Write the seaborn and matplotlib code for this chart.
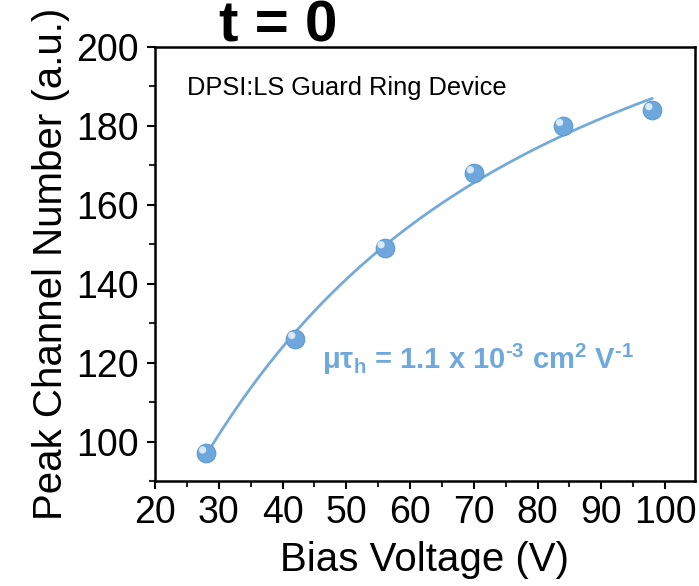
import numpy as np
import pandas as pd
import matplotlib
matplotlib.use("Agg")
import matplotlib.pyplot as plt
import matplotlib.transforms as mtransforms
import seaborn as sns

# Data
bias_voltage = [28, 42, 56, 70, 84, 98]
peak_channel = [97, 126, 149, 168, 180, 184]

x_ticks = [20, 30, 40, 50, 60, 70, 80, 90, 100]
y_ticks = [100, 120, 140, 160, 180, 200]

sns.set_theme(style="white")
plt.rcParams["font.family"] = ["Liberation Sans", "DejaVu Sans"]
plt.rcParams["mathtext.fontset"] = "custom"
plt.rcParams["mathtext.rm"] = "Liberation Sans"
plt.rcParams["mathtext.bf"] = "Liberation Sans:bold"
plt.rcParams["text.color"] = "black"
plt.rcParams["axes.labelcolor"] = "black"

df = pd.DataFrame({"V": bias_voltage, "ch": peak_channel})

# Hecht-type fit (least squares over k, linear in amplitude)
xv = np.array(bias_voltage, float)
yv = np.array(peak_channel, float)
best = None
for k in np.linspace(0.001, 0.2, 4000):
    g = k * xv * (1 - np.exp(-1.0 / (k * xv)))
    A = (g @ yv) / (g @ g)
    err = np.sum((A * g - yv) ** 2)
    if best is None or err < best[0]:
        best = (err, k, A)
_, kf, Af = best
xf = np.linspace(min(bias_voltage), max(bias_voltage), 200)
yf = Af * kf * xf * (1 - np.exp(-1.0 / (kf * xf)))
fit_df = pd.DataFrame({"V": xf, "ch": yf})

blue = "#6fa8dc"
fig = plt.figure(figsize=(6.99, 5.86), dpi=100)
ax = fig.add_axes([155 / 699, 105 / 586, 540 / 699, 434 / 586])

sns.lineplot(data=fit_df, x="V", y="ch", ax=ax, color="#74aad9", lw=2)
sns.scatterplot(data=df, x="V", y="ch", ax=ax, color="#6ea7db", s=180,
                edgecolor="#5f9ad0", linewidth=0.8, zorder=3)
off = mtransforms.offset_copy(ax.transData, fig=fig, x=-2.5, y=2.5, units="points")
ax.scatter(bias_voltage, peak_channel, s=28, color="#d8e8f7", edgecolor="none",
           transform=off, zorder=4)

ax.set_xlim(20, 104.7)
ax.set_ylim(90, 200)
ax.set_xticks(x_ticks)
ax.set_yticks(y_ticks)
ax.set_xticks(np.arange(25, 105, 10), minor=True)
ax.set_yticks(np.arange(90, 200, 20), minor=True)
ax.tick_params(axis="both", which="major", direction="out", length=6, width=1.5,
               labelsize=27, colors="black", bottom=True, left=True)
ax.tick_params(axis="y", which="major", pad=6)
ax.tick_params(axis="x", which="major", pad=4)
ax.tick_params(axis="both", which="minor", direction="out", length=4, width=1.5,
               bottom=True, left=True)
ax.tick_params(top=False, right=False, which="both")
for s in ax.spines.values():
    s.set_linewidth(1.8)
    s.set_color("black")

ax.set_xlabel("Bias Voltage (V)", fontsize=29, labelpad=7, color="black")
ax.set_ylabel("Peak Channel Number (a.u.)", fontsize=29, labelpad=4, color="black")

ax.text(0.06, 0.905, "DPSI:LS Guard Ring Device", transform=ax.transAxes,
        fontsize=18.3, va="center", ha="left", color="black")
ax.text(0.31, 0.28,
        "$\\mathbf{\\mu\\tau_h}$ = 1.1 x 10$^{\\mathbf{\u20103}}$ cm$^{\\mathbf{2}}$ V$^{\\mathbf{\u20101}}$",
        transform=ax.transAxes, fontsize=21, fontweight="bold", color=blue,
        va="center", ha="left")

fig.text(278 / 699, 1 - 41 / 586, "t = 0", fontsize=42, fontweight="bold",
         ha="center", va="baseline", color="black")

fig.savefig("out.png", dpi=100)
